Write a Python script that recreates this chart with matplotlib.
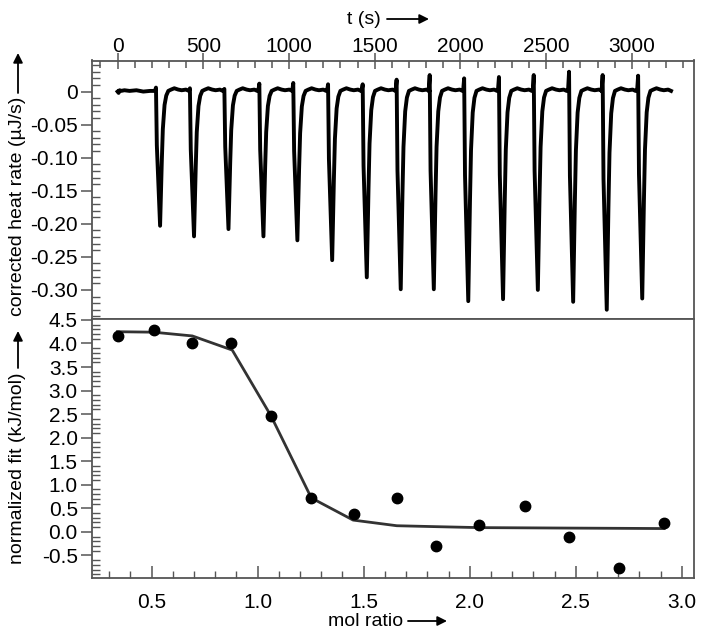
import numpy as np
import matplotlib
matplotlib.use("Agg")
import matplotlib.pyplot as plt
from matplotlib.ticker import MultipleLocator, FuncFormatter
from matplotlib.patches import FancyArrowPatch

plt.rcParams['font.family'] = ['Liberation Sans', 'DejaVu Sans']
plt.rcParams['axes.unicode_minus'] = False

# ---------------- top panel data (raw thermogram) ----------------
injection_times = [224, 422, 623, 827, 1025, 1228, 1430, 1628, 1821, 2022,
                   2225, 2428, 2634, 2830, 3037]
peak_minima = [-0.203, -0.219, -0.208, -0.219, -0.225, -0.255, -0.281, -0.299,
               -0.299, -0.317, -0.314, -0.300, -0.318, -0.330, -0.313]
spike_maxima = [0.006, 0.005, 0.004, 0.012, 0.013, 0.011, 0.011, 0.018,
                0.025, 0.020, 0.022, 0.025, 0.030, 0.025, 0.024]
# trace before the first injection
pre_t = [0, 6, 12, 20, 40, 70, 110, 150, 190, 215]
pre_v = [0.0, -0.002, 0.002, 0.001, 0.002, 0.001, 0.002, 0.0, 0.001, 0.001]
# shape of one injection peak (time after injection,
# fraction of the peak depth, baseline level)
peak_dt = [-6, 0, 5, 24, 34, 40, 50, 60, 72, 88, 107, 130, 150, 175, 192]
peak_frac = [0, 0, 0.40, 1.0, 0.52, 0.28, 0.10, 0.03, 0, 0, 0, 0, 0, 0, 0]
peak_base = [0.001, 0, 0.0, 0.0, 0.0, 0.0, 0.0, 0.0, 0.001, 0.003, 0.005,
             0.003, 0.002, 0.003, 0.001]

# ---------------- bottom panel data (integrated heats) ----------------
mol_ratio = [0.342, 0.509, 0.692, 0.873, 1.063, 1.253, 1.456, 1.656, 1.842,
             2.045, 2.263, 2.468, 2.703, 2.917]
norm_heat = [4.16, 4.28, 4.02, 4.02, 2.46, 0.72, 0.38, 0.71, -0.31, 0.14,
             0.55, -0.10, -0.77, 0.18]
fit_x = [0.338, 0.509, 0.692, 0.880, 1.063, 1.253, 1.450, 1.656, 1.842,
         2.045, 2.263, 2.468, 2.703, 2.917]
fit_y = [4.25, 4.24, 4.16, 3.86, 2.46, 0.72, 0.25, 0.13, 0.11, 0.09,
         0.085, 0.08, 0.075, 0.07]

top_xlabel = "t (s)"
top_ylabel = "corrected heat rate (\u00b5J/s)"
bot_xlabel = "mol ratio"
bot_ylabel = "normalized fit (kJ/mol)"

# build the thermogram from the picture-read pieces
t_all = list(pre_t)
v_all = list(pre_v)
for t0, dmin, sp in zip(injection_times, peak_minima, spike_maxima):
    for k, (dt, fr, b) in enumerate(zip(peak_dt, peak_frac, peak_base)):
        t_all.append(t0 + dt)
        v_all.append(sp if k == 1 else b + fr * dmin)

W, H = 704, 635
fig = plt.figure(figsize=(W / 100, H / 100), dpi=100)

L, R = 91.7, 694.0
T, M, B = 60.5, 319.0, 578.0
ax1 = fig.add_axes([L / W, 1 - M / H, (R - L) / W, (M - T) / H])
ax2 = fig.add_axes([L / W, 1 - B / H, (R - L) / W, (B - M) / H])

frame_col = '#555555'
for ax in (ax1, ax2):
    for s in ax.spines.values():
        s.set_color(frame_col)
        s.set_linewidth(1.3)

fs = 15
lfs = 14

# top panel
ax1.plot(t_all, v_all, color='black', lw=2.8, solid_joinstyle='round')
ax1.set_xlim(-151, 3363)
ax1.set_ylim(-0.344, 0.047)
ax1.xaxis.tick_top()
ax1.xaxis.set_major_locator(MultipleLocator(500))
ax1.xaxis.set_minor_locator(MultipleLocator(100))
ax1.yaxis.set_major_locator(MultipleLocator(0.05))
ax1.yaxis.set_minor_locator(MultipleLocator(0.01))
ax1.yaxis.set_major_formatter(FuncFormatter(lambda v, p: '0' if abs(v) < 1e-9 else f'{v:.2f}'))
ax1.tick_params(axis='x', which='major', direction='inout', length=11, width=1.1,
                color=frame_col, labelsize=fs, pad=-2, top=True, bottom=False)
ax1.tick_params(axis='x', which='minor', direction='in', length=5, width=1.1,
                color=frame_col, top=True, bottom=False)
ax1.tick_params(axis='y', which='major', direction='out', length=8, width=1.1,
                color=frame_col, labelsize=fs, pad=2, right=False)
ax1.tick_params(axis='y', which='minor', direction='in', length=6, width=1.0,
                color=frame_col, right=False)

# bottom panel
ax2.plot(fit_x, fit_y, color='#333333', lw=2.0, zorder=2)
ax2.plot(mol_ratio, norm_heat, 'o', color='black', ms=7.5, zorder=3)
ax2.set_xlim(0.217, 3.058)
ax2.set_ylim(-0.98, 4.52)
ax2.xaxis.set_major_locator(MultipleLocator(0.5))
ax2.xaxis.set_minor_locator(MultipleLocator(0.1))
ax2.yaxis.set_major_locator(MultipleLocator(0.5))
ax2.yaxis.set_minor_locator(MultipleLocator(0.1))
ax2.xaxis.set_major_formatter(FuncFormatter(lambda v, p: f'{v:.1f}'))
ax2.yaxis.set_major_formatter(FuncFormatter(lambda v, p: f'{v:.1f}'))
ax2.tick_params(axis='x', which='major', direction='in', length=9, width=1.1,
                color=frame_col, labelsize=fs, pad=11, top=False)
ax2.tick_params(axis='x', which='minor', direction='in', length=5, width=1.0,
                color=frame_col, top=False)
ax2.tick_params(axis='y', which='major', direction='out', length=8, width=1.1,
                color=frame_col, labelsize=fs, pad=2, right=False)
ax2.tick_params(axis='y', which='minor', direction='in', length=6, width=1.0,
                color=frame_col, right=False)


def fx(x):
    return x / W


def fy(y):
    return 1 - y / H


def arrow(x0, y0, x1, y1):
    fig.add_artist(FancyArrowPatch((fx(x0), fy(y0)), (fx(x1), fy(y1)),
                                   transform=fig.transFigure, arrowstyle='-|>',
                                   mutation_scale=14, lw=1.3, color='black',
                                   shrinkA=0, shrinkB=0))


fig.text(fx(381), fy(19), top_xlabel, ha='right', va='center', fontsize=lfs)
arrow(387, 19, 429, 19)
fig.text(fx(403), fy(621), bot_xlabel, ha='right', va='center', fontsize=lfs)
arrow(408, 621, 447, 621)
fig.text(fx(18), fy(97), top_ylabel, ha='center', va='top', rotation=90, fontsize=lfs)
arrow(18, 93, 18, 53)
fig.text(fx(18), fy(373), bot_ylabel, ha='center', va='top', rotation=90, fontsize=lfs)
arrow(18, 368, 18, 331)

fig.savefig('out.png', dpi=100)
